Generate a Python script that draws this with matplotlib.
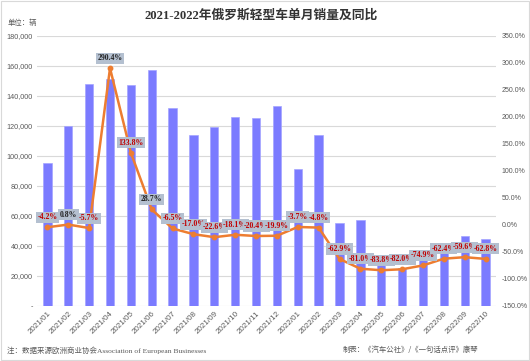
import matplotlib
matplotlib.use("Agg")
import matplotlib.pyplot as plt
from matplotlib.ticker import FuncFormatter, MultipleLocator
from matplotlib.patches import Rectangle

months = ["2021/01", "2021/02", "2021/03", "2021/04", "2021/05", "2021/06",
          "2021/07", "2021/08", "2021/09", "2021/10", "2021/11", "2021/12",
          "2022/01", "2022/02", "2022/03", "2022/04", "2022/05", "2022/06",
          "2022/07", "2022/08", "2022/09", "2022/10"]
sales = [95000, 120000, 148000, 151500, 147000, 157500,
         132000, 114000, 119000, 126000, 125000, 133000,
         91500, 114000, 55000, 57000, 27000, 25500,
         31500, 37000, 46500, 44500]
yoy = [-4.2, 0.8, -5.7, 290.4, 133.8, 28.7, -6.5, -17.0, -22.6, -18.1, -20.4, -19.9,
       -3.7, -4.8, -62.9, -81.0, -83.8, -82.0, -74.9, -62.4, -59.6, -62.8]
dark_labels = {"0.8%", "290.4%", "28.7%"}

CJK = ["Noto Sans CJK SC", "DejaVu Sans"]
SERIF_CJK = ["Liberation Serif", "Noto Sans CJK SC"]
GREY = "#595959"

fig = plt.figure(figsize=(5.3, 3.61), dpi=100)
fig.patches.append(Rectangle((0.002, 0.002), 0.996, 0.996, transform=fig.transFigure,
                             fill=False, edgecolor="#d9d9d9", lw=0.8))
ax = fig.add_axes([0.0698, 0.1524, 0.866, 0.7479])
ax2 = ax.twinx()

x = list(range(len(months)))
ax.bar(x, sales, width=0.4, color="#7b7bff", edgecolor="#a5a5ff", lw=0.5, zorder=2)
ax.set_ylim(0, 180000)
ax.set_xlim(-0.5, len(months) - 0.5)
ax.yaxis.set_major_locator(MultipleLocator(20000))
ax.yaxis.set_major_formatter(FuncFormatter(lambda v, p: "-" if v == 0 else f"{v:,.0f}"))
ax.grid(axis="y", color="#d9d9d9", lw=0.8, zorder=0)
ax.set_axisbelow(True)
ax.set_xticks(x)
ax.set_xticklabels(months, rotation=45, ha="right", va="top", rotation_mode="anchor",
                   fontsize=5.8, color=GREY, family="Liberation Sans")
ax.tick_params(axis="x", length=0, pad=3)
ax.tick_params(axis="y", length=0, pad=3, labelsize=5.2, labelcolor=GREY)
for t in ax.get_yticklabels():
    t.set_family("Liberation Sans")

ax2.plot(x, yoy, color="#ed7d31", lw=1.8, marker="o", ms=3.2, zorder=3)
ax2.set_ylim(-150, 350)
ax2.yaxis.set_major_locator(MultipleLocator(50))
ax2.yaxis.set_major_formatter(FuncFormatter(lambda v, p: f"{v:.1f}%"))
ax2.tick_params(axis="y", length=0, pad=4, labelsize=5.0, labelcolor=GREY)
for t in ax2.get_yticklabels():
    t.set_family("Liberation Sans")

for a in (ax, ax2):
    for s in a.spines.values():
        s.set_visible(False)

for xi, v in zip(x, yoy):
    txt = f"{v:.1f}%"
    ax2.annotate(txt, (xi, v), xytext=(0, 7.2), textcoords="offset points",
                 ha="center", va="center", fontsize=5.6, fontweight="bold",
                 family="Liberation Serif",
                 color="#222222" if txt in dark_labels else "#c00000",
                 bbox=dict(boxstyle="square,pad=0.2", fc="#b4c0d0", ec="none"),
                 zorder=5)

fig.text(0.493, 0.958, "2021-2022年俄罗斯轻型车单月销量及同比", ha="center", va="center",
         fontsize=9.2, fontweight="bold", family=SERIF_CJK, color="#333333")
fig.text(0.014, 0.936, "单位：辆", ha="left", va="center", fontsize=5.3,
         family=CJK, color=GREY)
fig.text(0.013, 0.03, "注：数据来源欧洲商业协会Association of European Businesses",
         ha="left", va="center", fontsize=5.4, family=SERIF_CJK, color=GREY)
fig.text(0.647, 0.03, "制表：《汽车公社》/《一句话点评》康琴", ha="left", va="center",
         fontsize=5.3, family=CJK, color=GREY)

fig.savefig("out.png", dpi=100)
